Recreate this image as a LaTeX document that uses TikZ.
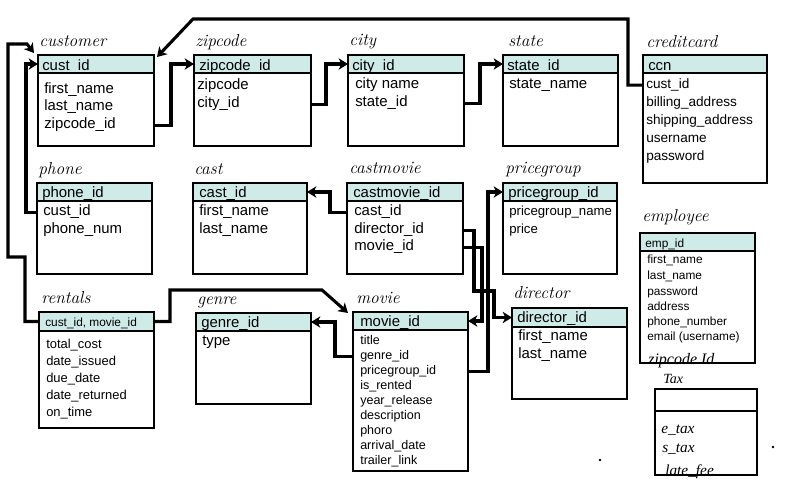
\documentclass[tikz,border=0pt]{standalone}
\usepackage{fontspec}
\setsansfont{Liberation Sans}
\newfontfamily\timesf{Liberation Serif}
\usetikzlibrary{arrows.meta}
\definecolor{hdrcol}{HTML}{CFEBE8}
\tikzset{
  tbody/.style={draw=black, line width=1.4pt, fill=white, inner sep=0pt, outer sep=0pt, rectangle},
  thead/.style={draw=black, line width=1.4pt, fill=hdrcol, inner sep=0pt, outer sep=0pt, rectangle},
  ttitle/.style={inner sep=0pt, anchor=base west, font=\fontsize{13}{15}\selectfont\itshape},
  rowtxt/.style={inner sep=0pt, anchor=base west, font=\fontsize{11.2}{13}\selectfont\sffamily},
  rowsm/.style={rowtxt, font=\fontsize{10.2}{12}\selectfont\sffamily},
  rowpg/.style={rowtxt, font=\fontsize{9.9}{12}\selectfont\sffamily},
  rowmv/.style={rowtxt, font=\fontsize{9.4}{11}\selectfont\sffamily},
  rowrt/.style={rowtxt, font=\fontsize{9.7}{11}\selectfont\sffamily},
  rowem/.style={rowtxt, font=\fontsize{8.9}{10}\selectfont\sffamily},
  rowtx/.style={inner sep=0pt, anchor=base west, font=\fontsize{11.5}{13}\selectfont\timesf\itshape},
  conn/.style={line width=2.3pt, -{Stealth[length=7pt,width=8.5pt,inset=2pt]}},
  bline/.style={line width=1.4pt},
}
\newcommand\mktable[6]{%
  \node[tbody, anchor=north west, minimum width={(#4-#2)*0.75pt}, minimum height={(#6-#3)*0.75pt}] (#1) at (#2,#3) {};
  \node[thead, anchor=north west, minimum width={(#4-#2)*0.75pt}, minimum height={(#5-#3)*0.75pt}] (#1-h) at (#2,#3) {};
}
\begin{document}
\begin{tikzpicture}[x=0.75pt,y=-0.75pt]
\useasboundingbox (0,0) rectangle (792,482);

% customer
\mktable{customer}{38}{55}{154}{73}{146}
\node[ttitle] (customer-t) at (39,46) {customer};
\node[rowtxt] (customer-k) at (42,70) {cust\_id};
\node[rowtxt] (cust-r1) at (44,93) {first\_name};
\node[rowtxt] (cust-r2) at (44,110) {last\_name};
\node[rowtxt] (cust-r3) at (44,128) {zipcode\_id};

% zipcode
\mktable{zipcode}{194}{55}{311}{73}{146}
\node[ttitle] (zipcode-t) at (195,46) {zipcode};
\node[rowtxt] (zipcode-k) at (199,70) {zipcode\_id};
\node[rowtxt] (zip-r1) at (197,89) {zipcode};
\node[rowtxt] (zip-r2) at (197,107) {city\_id};

% city
\mktable{city}{348}{55}{464}{73}{146}
\node[ttitle] (city-t) at (349,45) {city};
\node[rowtxt] (city-k) at (352,70) {city\_id};
\node[rowtxt] (city-r1) at (355,88) {city name};
\node[rowtxt] (city-r2) at (355,106) {state\_id};

% state
\mktable{state}{503}{55}{618}{73}{146}
\node[ttitle] (state-t) at (508,46) {state};
\node[rowtxt] (state-k) at (507,70) {state\_id};
\node[rowtxt] (state-r1) at (509,88) {state\_name};

% creditcard
\mktable{creditcard}{643}{55}{767}{73}{183}
\node[ttitle] (creditcard-t) at (646,47) {creditcard};
\node[rowtxt] (cc-k) at (648,70) {ccn};
\node[rowsm] (cc-r1) at (646,88) {cust\_id};
\node[rowsm] (cc-r2) at (646,106) {billing\_address};
\node[rowsm] (cc-r3) at (646,124) {shipping\_address};
\node[rowsm] (cc-r4) at (646,142) {username};
\node[rowsm] (cc-r5) at (646,160) {password};

% phone
\mktable{phone}{37}{183}{152}{201}{274}
\node[ttitle] (phone-t) at (38,174) {phone};
\node[rowtxt] (phone-k) at (42,197) {phone\_id};
\node[rowtxt] (phone-r1) at (43,215) {cust\_id};
\node[rowtxt] (phone-r2) at (43,233) {phone\_num};

% cast
\mktable{cast}{193}{183}{307}{201}{274}
\node[ttitle] (cast-t) at (194,174) {cast};
\node[rowtxt] (cast-k) at (199,197) {cast\_id};
\node[rowtxt] (cast-r1) at (199,215) {first\_name};
\node[rowtxt] (cast-r2) at (199,233) {last\_name};

% castmovie
\mktable{castmovie}{347}{183}{463}{201}{274}
\node[ttitle] (castmovie-t) at (349,173) {castmovie};
\node[rowtxt] (cm-k) at (353,197) {castmovie\_id};
\node[rowtxt] (cm-r1) at (354,215) {cast\_id};
\node[rowtxt] (cm-r2) at (354,233) {director\_id};
\node[rowtxt] (cm-r3) at (354,250) {movie\_id};

% pricegroup
\mktable{pricegroup}{503}{183}{617}{201}{274}
\node[ttitle] (pricegroup-t) at (505,173) {pricegroup};
\node[rowtxt] (pg-k) at (508,197) {pricegroup\_id};
\node[rowpg] (pg-r1) at (509,215) {pricegroup\_name};
\node[rowpg] (pg-r2) at (509,233) {price};

% rentals
\mktable{rentals}{39}{312}{154}{331}{428}
\node[ttitle] (rentals-t) at (41,303) {rentals};
\node[rowem] (rt-k) at (45,326) {cust\_id, movie\_id};
\node[rowrt] (rt-r1) at (46,348) {total\_cost};
\node[rowrt] (rt-r2) at (46,365) {date\_issued};
\node[rowrt] (rt-r3) at (46,382) {due\_date};
\node[rowrt] (rt-r4) at (46,399) {date\_returned};
\node[rowrt] (rt-r5) at (46,416) {on\_time};

% genre
\mktable{genre}{196}{313}{311}{331}{404}
\node[ttitle] (genre-t) at (197,304) {genre};
\node[rowtxt] (genre-k) at (201,327) {genre\_id};
\node[rowtxt] (genre-r1) at (202,345) {type};

% movie
\mktable{movie}{353}{312}{468}{330}{471}
\node[ttitle] (movie-t) at (356,303) {movie};
\node[rowtxt] (mv-k) at (360,326) {movie\_id};
\node[rowmv] (mv-r1) at (360,344) {title};
\node[rowmv] (mv-r2) at (360,359) {genre\_id};
\node[rowmv] (mv-r3) at (360,374) {pricegroup\_id};
\node[rowmv] (mv-r4) at (360,389) {is\_rented};
\node[rowmv] (mv-r5) at (360,404) {year\_release};
\node[rowmv] (mv-r6) at (360,419) {description};
\node[rowmv] (mv-r7) at (360,434) {phoro};
\node[rowmv] (mv-r8) at (360,449) {arrival\_date};
\node[rowmv] (mv-r9) at (360,464) {trailer\_link};

% director
\mktable{director}{512}{308}{627}{327}{399}
\node[ttitle] (director-t) at (513,298) {director};
\node[rowtxt] (dir-k) at (517,322) {director\_id};
\node[rowtxt] (dir-r1) at (518,340) {first\_name};
\node[rowtxt] (dir-r2) at (518,358) {last\_name};

% employee
\mktable{employee}{640}{233}{755}{251}{363}
\node[ttitle] (employee-t) at (642,221) {employee};
\node[rowem] (emp-k) at (645,247) {emp\_id};
\node[rowem] (emp-r1) at (647,263) {first\_name};
\node[rowem] (emp-r2) at (647,279) {last\_name};
\node[rowem] (emp-r3) at (647,295) {password};
\node[rowem] (emp-r4) at (647,310) {address};
\node[rowem] (emp-r5) at (647,325) {phone\_number};
\node[rowem] (emp-r6) at (647,340) {email (username)};
\node[rowtx, font=\fontsize{12}{13}\selectfont\timesf\itshape] (emp-r7) at (648,364) {zipcode Id};
\draw[bline] (employee.south west) -- (employee.south east);

% Tax
\node[tbody, anchor=north west, minimum width={(757-655)*0.75pt}, minimum height={(475-389)*0.75pt}] (tax) at (655,389) {};
\node[tbody, anchor=north west, minimum width={(757-655)*0.75pt}, minimum height={(411-389)*0.75pt}] (tax-h) at (655,389) {};
\node[rowtx, font=\fontsize{10.5}{12}\selectfont\timesf\itshape] (tax-t) at (663,383) {Tax};
\node[rowtx] (tax-r1) at (661,433) {e\_tax};
\node[rowtx] (tax-r2) at (662,452) {s\_tax};
\node[rowtx] (tax-r3) at (665,475) {late\_fee};
\draw[bline] (tax.south west) -- (tax.south east);

% stray dots
\fill (600,460) circle[radius=1pt];
\fill (773,447) circle[radius=1pt];

% bend coordinates
\coordinate (ccA) at (628,19);
\coordinate (ccB) at (193,19);
\coordinate (rb1) at (25,257);
\coordinate (rb2) at (8,257);
\coordinate (rb3) at (8,44);
\coordinate (rb4) at (27,44);
\coordinate (dA) at (474,291);
\coordinate (dB) at (494,291);
\coordinate (bR) at (322,290);

% connectors
\draw[conn] (creditcard.west |- cc-r1.mid) -| (ccA) -- (ccB) -- ([shift={(3,2)}]customer.north east);
\draw[conn] (customer.east |- cust-r3.mid) -- ++(17,0) |- (zipcode-h.west);
\draw[conn] (zipcode.east |- zip-r2.mid) -- ++(15,0) |- (city-h.west);
\draw[conn] (city.east |- city-r2.mid) -- ++(16,0) |- (state-h.west);
\draw[conn] (phone.west |- phone-r1.mid) -- ++(-11,0) |- (customer-h.west);
\draw[conn] (rentals-h.west) -| (rb1) -- (rb2) -- (rb3) -- (rb4) -- ([shift={(-4,-2)}]customer.north west);
\draw[conn] (castmovie.west |- cm-r1.mid) -- ++(-17,0) |- (cast-h.east);
\draw[conn] (castmovie.east |- cm-r2.mid) -| (dA) -- (dB) |- (director-h.west);
\draw[conn] (castmovie.east |- cm-r3.mid) -- ++(19,0) |- (movie-h.east);
\draw[conn] (movie.east |- mv-r3.mid) -- ++(20,0) |- (pricegroup-h.west);
\draw[conn] (movie.west |- mv-r2.mid) -- ++(-18,0) |- (genre-h.east);
\draw[conn] (rentals-h.east) -- ++(16,0) |- (bR) -- ([shift={(-5,1)}]movie.north west);
\end{tikzpicture}
\end{document}
